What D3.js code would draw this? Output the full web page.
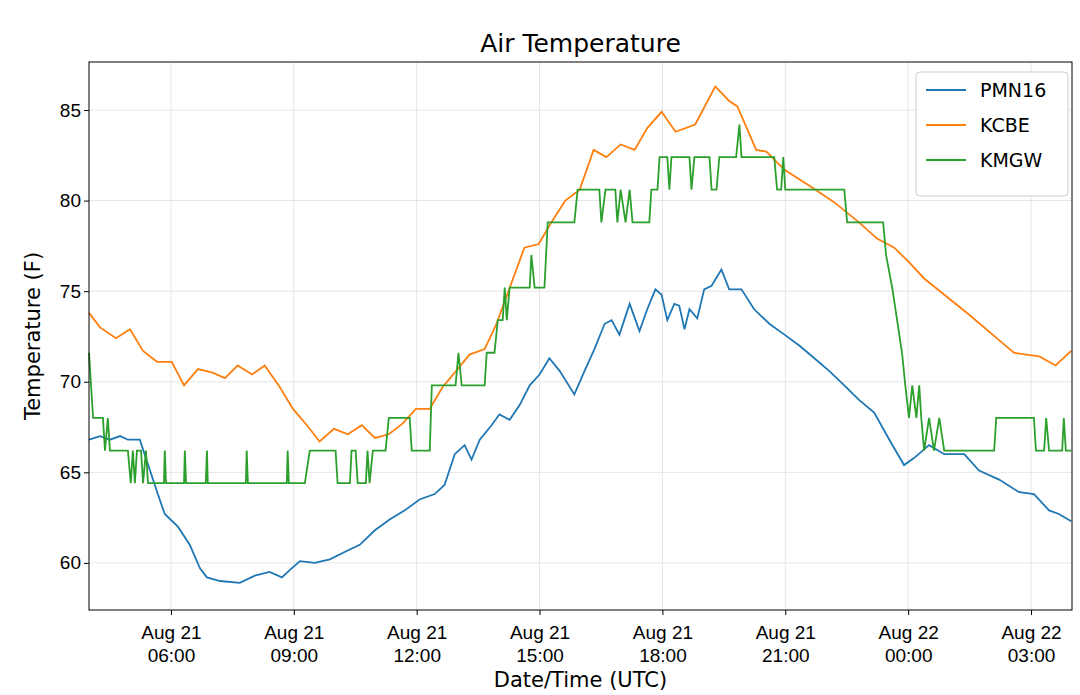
<!DOCTYPE html>
<html><head><meta charset="utf-8">
<script src="https://cdn.jsdelivr.net/npm/d3@7"></script>
<style>body{margin:0;background:#fff;font-family:"DejaVu Sans",sans-serif;}</style>
</head><body><div id="chart"></div>
<script>
// hours since Aug 21 00:00 UTC, temperature (F)
var kcbeHours = [4.0,4.27,4.66,5.0,5.32,5.66,6.02,6.32,6.66,7.02,7.32,7.63,7.98,8.29,8.66,8.98,9.32,9.63,9.98,10.32,10.66,10.98,11.32,11.66,11.98,12.32,12.63,13.0,13.29,13.66,13.95,14.29,14.63,14.98,15.29,15.63,15.98,16.32,16.63,16.98,17.32,17.63,17.98,18.32,18.8,19.29,19.63,19.83,20.29,20.54,20.98,21.6,22.2,22.8,23.24,23.66,24.02,24.39,25.49,26.22,26.58,27.2,27.6,27.98];
var kcbeTemp = [73.8,73.0,72.4,72.9,71.7,71.1,71.1,69.8,70.7,70.5,70.2,70.9,70.4,70.9,69.7,68.5,67.6,66.7,67.4,67.1,67.6,66.9,67.1,67.7,68.5,68.5,69.7,70.7,71.5,71.8,73.2,75.3,77.4,77.6,78.8,80.0,80.6,82.8,82.4,83.1,82.8,84.0,84.9,83.8,84.2,86.3,85.5,85.2,82.8,82.7,81.7,80.8,79.9,78.8,77.9,77.4,76.6,75.7,73.7,72.3,71.6,71.4,70.9,71.7];

var kmgwHours = [4.00,4.10,4.34,4.39,4.46,4.51,4.95,5.02,5.07,5.12,5.17,5.27,5.32,5.39,5.44,5.83,5.85,5.88,6.32,6.34,6.37,6.85,6.88,6.90,7.83,7.85,7.88,8.83,8.85,8.88,9.27,9.39,10.02,10.07,10.37,10.41,10.51,10.56,10.76,10.80,10.85,10.93,11.24,11.32,11.83,11.88,12.32,12.37,12.95,13.02,13.10,13.66,13.71,13.90,13.98,14.10,14.15,14.20,14.27,14.76,14.80,14.88,15.12,15.20,15.85,15.93,16.46,16.51,16.61,16.85,16.90,16.98,17.10,17.20,17.27,17.68,17.73,17.88,17.93,18.12,18.17,18.22,18.66,18.71,18.78,19.15,19.20,19.32,19.39,19.80,19.88,19.93,20.73,20.80,20.90,20.95,21.00,22.44,22.51,23.39,23.46,23.61,23.73,23.85,23.93,24.02,24.10,24.20,24.27,24.32,24.39,24.51,24.63,24.76,24.88,26.10,26.15,27.07,27.12,27.32,27.37,27.44,27.76,27.80,27.85,27.98];
var kmgwTemp = [71.6,68.0,68.0,66.2,68.0,66.2,66.2,64.4,66.2,64.4,66.2,66.2,64.4,66.2,64.4,64.4,66.2,64.4,64.4,66.2,64.4,64.4,66.2,64.4,64.4,66.2,64.4,64.4,66.2,64.4,64.4,66.2,66.2,64.4,64.4,66.2,66.2,64.4,64.4,66.2,64.4,66.2,66.2,68.0,68.0,66.2,66.2,69.8,69.8,71.6,69.8,69.8,71.6,71.6,73.4,73.4,75.2,73.4,75.2,75.2,77.0,75.2,75.2,78.8,78.8,80.6,80.6,78.8,80.6,80.6,78.8,80.6,78.8,80.6,78.8,78.8,80.6,80.6,82.4,82.4,80.6,82.4,82.4,80.6,82.4,82.4,80.6,80.6,82.4,82.4,84.2,82.4,82.4,80.6,80.6,82.4,80.6,80.6,78.8,78.8,77.0,75.2,73.4,71.6,69.8,68.0,69.8,68.0,69.8,68.0,66.2,68.0,66.2,68.0,66.2,66.2,68.0,68.0,66.2,66.2,68.0,66.2,66.2,68.0,66.2,66.2];

var pmnHours = [4.00,4.27,4.51,4.76,4.95,5.24,5.49,5.68,5.85,6.17,6.46,6.71,6.88,7.20,7.68,8.05,8.41,8.71,8.90,9.15,9.51,9.88,10.24,10.61,10.98,11.34,11.71,12.07,12.44,12.68,12.93,13.17,13.34,13.54,13.83,14.02,14.27,14.51,14.76,15.00,15.24,15.49,15.85,16.10,16.34,16.59,16.76,16.95,17.20,17.44,17.63,17.83,17.98,18.12,18.29,18.41,18.54,18.66,18.85,19.02,19.20,19.44,19.63,19.93,20.24,20.61,20.98,21.34,21.71,22.07,22.44,22.80,23.17,23.54,23.90,24.15,24.51,24.88,25.37,25.73,26.22,26.71,27.07,27.44,27.68,27.98];
var pmnTemp = [66.8,67.0,66.8,67.0,66.8,66.8,65.1,63.8,62.7,62.0,61.0,59.7,59.2,59.0,58.9,59.3,59.5,59.2,59.6,60.1,60.0,60.2,60.6,61.0,61.8,62.4,62.9,63.5,63.8,64.3,66.0,66.5,65.7,66.8,67.6,68.2,67.9,68.7,69.8,70.4,71.3,70.6,69.3,70.6,71.8,73.2,73.4,72.6,74.3,72.8,74.0,75.1,74.8,73.4,74.3,74.2,72.9,74.0,73.5,75.1,75.3,76.2,75.1,75.1,74.0,73.2,72.6,72.0,71.3,70.6,69.8,69.0,68.3,66.8,65.4,65.8,66.5,66.0,66.0,65.1,64.6,63.9,63.8,62.9,62.7,62.3];

var seriesNames = ["PMN16","KCBE","KMGW"];
var colors = ["#1f77b4","#ff7f0e","#2ca02c"];
var yTicks = [60,65,70,75,80,85];
var xTickHours = [6,9,12,15,18,21,24,27];

var W = 1080, H = 695;
var m = {left: 89, top: 62, right: 8, bottom: 85};
var base = Date.UTC(2017,7,21,0,0);
function toDate(h){ return new Date(base + h*3600000); }
function pts(hs, ts){ return hs.map(function(h,i){ return {t: toDate(h), v: ts[i]}; }); }
var series = [pts(pmnHours,pmnTemp), pts(kcbeHours,kcbeTemp), pts(kmgwHours,kmgwTemp)];

var svg = d3.select("#chart").append("svg").attr("width",W).attr("height",H);
var x = d3.scaleUtc().domain([toDate(4), toDate(28)]).range([m.left, W-m.right]);
var y = d3.scaleLinear().domain([57.4, 87.65]).range([H-m.bottom, m.top]);

// grid
svg.append("g").selectAll("line").data(xTickHours).enter().append("line")
  .attr("x1", function(d){return x(toDate(d));}).attr("x2", function(d){return x(toDate(d));})
  .attr("y1", m.top).attr("y2", H-m.bottom).attr("stroke","#e6e6e6");
svg.append("g").selectAll("line").data(yTicks).enter().append("line")
  .attr("y1", function(d){return y(d);}).attr("y2", function(d){return y(d);})
  .attr("x1", m.left).attr("x2", W-m.right).attr("stroke","#e6e6e6");

var fmtDay = d3.utcFormat("%b %d"), fmtTime = d3.utcFormat("%H:%M");
var xa = svg.append("g").attr("transform","translate(0,"+(H-m.bottom)+")")
  .call(d3.axisBottom(x).tickValues(xTickHours.map(toDate)).tickSize(5).tickFormat(""));
xa.selectAll(".tick").append("text").attr("fill","#000").attr("text-anchor","middle")
  .style("font-size","19px")
  .each(function(d){
    var t = d3.select(this);
    t.append("tspan").attr("x",0).attr("y",29).text(fmtDay(d));
    t.append("tspan").attr("x",0).attr("y",52).text(fmtTime(d));
  });
var ya = svg.append("g").attr("transform","translate("+m.left+",0)")
  .call(d3.axisLeft(y).tickValues(yTicks).tickSize(5));
ya.selectAll("text").style("font-size","19px").attr("fill","#000");
[xa, ya].forEach(function(a){ a.select(".domain").remove(); });

var line = d3.line().x(function(d){return x(d.t);}).y(function(d){return y(d.v);});
svg.append("g").selectAll("path").data(series).enter().append("path")
  .attr("d", line).attr("fill","none").attr("stroke-width",1.8)
  .attr("stroke", function(d,i){return colors[i];});

// frame
svg.append("rect").attr("x",m.left).attr("y",m.top).attr("width",W-m.left-m.right)
  .attr("height",H-m.top-m.bottom).attr("fill","none").attr("stroke","#000").attr("stroke-width",1);

svg.append("text").attr("x",(m.left+W-m.right)/2).attr("y",52).attr("text-anchor","middle")
  .style("font-size","25px").text("Air Temperature");
svg.append("text").attr("x",(m.left+W-m.right)/2).attr("y",687).attr("text-anchor","middle")
  .style("font-size","21px").text("Date/Time (UTC)");
svg.append("text").attr("transform","translate(40,"+((m.top+H-m.bottom)/2)+") rotate(-90)")
  .attr("text-anchor","middle").style("font-size","21px").text("Temperature (F)");

// legend
var lg = svg.append("g").attr("transform","translate(916,72)");
lg.append("rect").attr("width",152).attr("height",124).attr("rx",4).attr("fill","#fff")
  .attr("stroke","#ccc");
seriesNames.forEach(function(n,i){
  var yy = 18 + i*35;
  lg.append("line").attr("x1",10).attr("x2",50).attr("y1",yy).attr("y2",yy)
    .attr("stroke",colors[i]).attr("stroke-width",2);
  lg.append("text").attr("x",64).attr("y",yy+7).style("font-size","19px").text(n);
});
</script></body></html>
